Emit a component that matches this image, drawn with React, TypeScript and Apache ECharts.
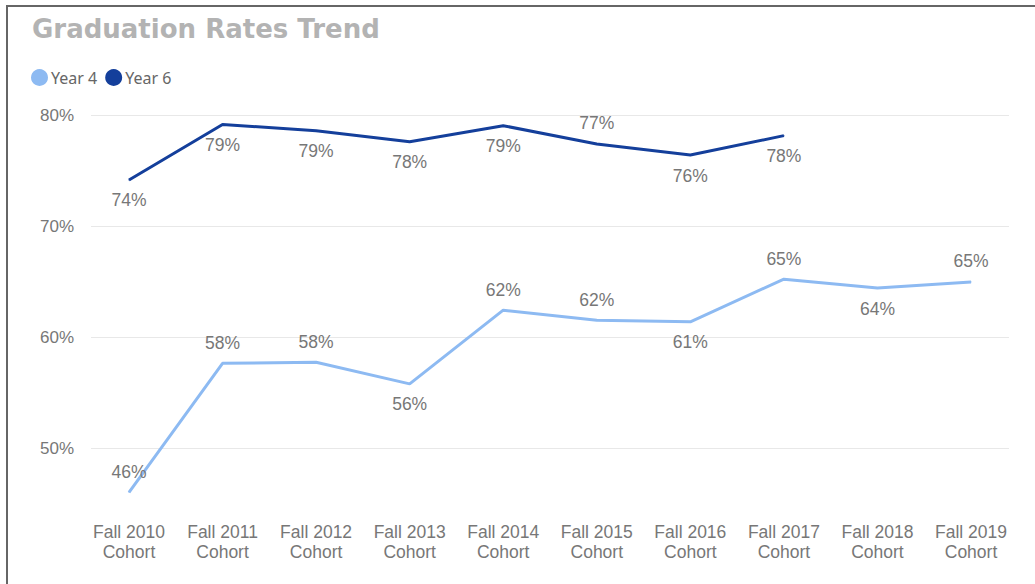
import React, { useEffect, useRef } from "react";
import * as echarts from "echarts";

const categories = [
  "Fall 2010\nCohort",
  "Fall 2011\nCohort",
  "Fall 2012\nCohort",
  "Fall 2013\nCohort",
  "Fall 2014\nCohort",
  "Fall 2015\nCohort",
  "Fall 2016\nCohort",
  "Fall 2017\nCohort",
  "Fall 2018\nCohort",
  "Fall 2019\nCohort",
];
const year4 = [46.0, 57.65, 57.75, 55.8, 62.45, 61.55, 61.4, 65.25, 64.45, 65.0];
const year6 = [74.2, 79.2, 78.65, 77.65, 79.1, 77.45, 76.45, 78.2, null, null];
const yTicks = [50, 60, 70, 80];

const labelPos4 = ["top", "top", "top", "bottom", "top", "top", "bottom", "top", "bottom", "top"];
const labelPos6 = ["bottom", "bottom", "bottom", "bottom", "bottom", "top", "bottom", "bottom", "bottom", "bottom"];

const C4 = "#8DBAF2";
const C6 = "#143F9B";

function buildData(vals: (number | null)[], pos: string[]) {
  return vals.map((v, i) =>
    v == null
      ? [i, null]
      : { value: [i, v], label: { show: true, position: pos[i] } }
  );
}

export default function App() {
  const ref = useRef<HTMLDivElement>(null);
  useEffect(() => {
    if (!ref.current) return;
    const chart = echarts.init(ref.current, undefined, { renderer: "svg" });
    const labelCommon = {
      show: true,
      formatter: (p: any) => Math.round(p.value[1]) + "%",
      fontSize: 17.5,
      color: "#777777",
      fontFamily: "Liberation Sans, Arial, sans-serif",
      distance: 11,
    };
    chart.setOption({
      animation: false,
      backgroundColor: "#ffffff",
      title: {
        text: "Graduation Rates Trend",
        left: 27,
        top: 11,
        textStyle: {
          fontSize: 26,
          fontWeight: "bold",
          color: "#b3b3b3",
          fontFamily: "DejaVu Sans, sans-serif",
        },
      },
      legend: {
        left: 26,
        top: 64,
        icon: "circle",
        itemWidth: 17,
        itemHeight: 17,
        itemGap: 8,
        textStyle: {
          fontSize: 16,
          color: "#666666",
          fontFamily: "Noto Sans, sans-serif",
          padding: [0, 0, 0, -2],
        },
        data: ["Year 4", "Year 6"],
      },
      graphic: [
        {
          type: "rect",
          shape: { x: 7, y: 6, width: 1100, height: 700 },
          style: { fill: "none", stroke: "#666666", lineWidth: 2 },
          silent: true,
        },
      ],
      grid: { left: 91, right: 26, top: 115.7, bottom: 69.4 },
      xAxis: {
        type: "value",
        min: -0.406,
        max: 9.406,
        axisLine: { show: false },
        axisTick: { show: false },
        splitLine: { show: false },
        axisLabel: {
          customValues: categories.map((_, i) => i),
          formatter: (v: number) => categories[Math.round(v)] ?? "",
          fontSize: 17.5,
          lineHeight: 20,
          color: "#777777",
          margin: 7,
          fontFamily: "Liberation Sans, Arial, sans-serif",
        },
      },
      yAxis: {
        type: "value",
        min: 44,
        max: 80,
        axisLine: { show: false },
        axisTick: { show: false, customValues: yTicks },
        splitLine: { show: true, lineStyle: { color: "#e8e8e8", width: 1 } },
        axisLabel: {
          customValues: yTicks,
          formatter: (v: number) => v + "%",
          fontSize: 17,
          color: "#777777",
          margin: 17,
          fontFamily: "Liberation Sans, Arial, sans-serif",
        },
      },
      series: [
        {
          name: "Year 4",
          type: "line",
          data: buildData(year4, labelPos4),
          symbol: "circle",
          symbolSize: 1,
          showSymbol: true,
          lineStyle: { color: C4, width: 3 },
          itemStyle: { color: C4 },
          label: labelCommon,
          labelLayout: { hideOverlap: false },
          connectNulls: false,
        },
        {
          name: "Year 6",
          type: "line",
          data: buildData(year6, labelPos6),
          symbol: "circle",
          symbolSize: 1,
          showSymbol: true,
          lineStyle: { color: C6, width: 3 },
          itemStyle: { color: C6 },
          label: labelCommon,
          labelLayout: { hideOverlap: false },
          connectNulls: false,
        },
      ],
    });
    return () => chart.dispose();
  }, []);
  return (
    <div
      ref={ref}
      style={{ position: "absolute", left: 0, top: 0, width: 1035, height: 584 }}
    />
  );
}
